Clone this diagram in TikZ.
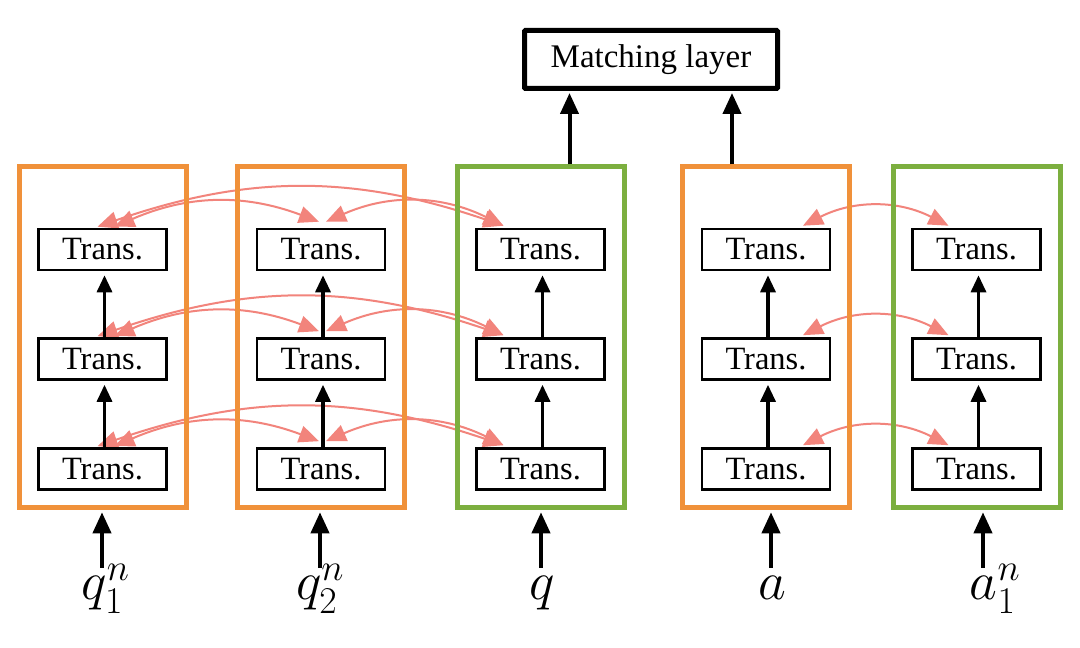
\RequirePackage{fix-cm}
\documentclass[tikz,border=0pt]{standalone}
\usepackage{fontspec}
\setmainfont{Liberation Serif}
\usetikzlibrary{arrows.meta,calc}
\definecolor{boxorange}{HTML}{F0913A}
\definecolor{boxgreen}{HTML}{7CAF3F}
\definecolor{linkpink}{HTML}{F2847C}
\pgfdeclarelayer{bg}
\pgfsetlayers{bg,main}
\begin{document}
\begin{tikzpicture}[x=1pt,y=1pt,
  container/.style={draw=#1, line width=5pt, minimum width=167pt, minimum height=341pt, inner sep=0pt},
  trans/.style={draw, line width=2.6pt, minimum width=128pt, minimum height=41pt, inner sep=0pt, font=\fontsize{32.5}{36}\selectfont},
  matchbox/.style={draw, line width=5pt, rounded corners=1pt, minimum width=253pt, minimum height=58pt, inner sep=0pt, font=\fontsize{33}{38}\selectfont},
  inlabel/.style={anchor=base, inner sep=0pt, font=\fontsize{54}{60}\selectfont},
  upflow/.style={line width=3.3pt, -{Triangle[length=17pt,width=15pt]}, shorten >=4pt},
  bigflow/.style={line width=4pt, -{Triangle[length=21pt,width=18pt]}, shorten >=2pt},
  link/.style={draw=linkpink, line width=2pt, {Triangle[length=20pt,width=17pt]}-{Triangle[length=20pt,width=17pt]}}
]
\useasboundingbox (0,0) rectangle (1080,648);

% containers
\node[container=boxorange] (c1) at (102.5,310.7) {};
\node[container=boxorange] (c2) at (321,310.7) {};
\node[container=boxgreen]  (c3) at (540.5,310.7) {};
\node[container=boxorange] (c4) at (766,310.7) {};
\node[container=boxgreen]  (c5) at (976.5,310.7) {};

% transformer blocks: a = top, b = middle, c = bottom
\foreach \i/\x in {1/102.5,2/321,3/540.5,4/766,5/976.5}{
  \node[trans] (t\i a) at (\x,398.5) {Trans.};
  \node[trans] (t\i b) at (\x,289) {Trans.};
  \node[trans] (t\i c) at (\x,179) {Trans.};
}

% matching layer
\node[matchbox] (ml) at (651,588.5) {Matching layer};

% internal upward arrows
\foreach \i in {1,...,5}{
  \draw[upflow] ([xshift=2pt]t\i c.north) -- ([xshift=2pt]t\i b.south);
  \draw[upflow] ([xshift=2pt]t\i b.north) -- ([xshift=2pt]t\i a.south);
}

% inputs
\node[inlabel] (l1) at (105.6,48) {$q_1^n$};
\node[inlabel] (l2) at (320,48) {$q_2^n$};
\node[inlabel] (l3) at (542,48) {$q$};
\node[inlabel] (l4) at (772,48) {$a$};
\node[inlabel] (l5) at (995,48) {$a_1^n$};
\coordinate (i1) at (102,80);
\coordinate (i2) at (320,80);
\coordinate (i3) at (541,80);
\coordinate (i4) at (771,80);
\coordinate (i5) at (983,80);
\draw[bigflow] (i1) -- (i1 |- c1.south);
\draw[bigflow] (i2) -- (i2 |- c2.south);
\draw[bigflow] (i3) -- (i3 |- c3.south);
\draw[bigflow] (i4) -- (i4 |- c4.south);
\draw[bigflow] (i5) -- (i5 |- c5.south);

% to matching layer
\coordinate (m1) at ([xshift=29pt]c3.north);
\coordinate (m2) at ([xshift=-34pt]c4.north);
\draw[bigflow] (m1) -- (m1 |- ml.south);
\draw[bigflow] (m2) -- (m2 |- ml.south);

% cross links (behind the container borders)
\begin{pgfonlayer}{bg}
\fill[white] (0,0) rectangle (1080,648);
\foreach \r in {a,b,c}{
  \draw[link] ($(t1\r.north)+(-5,1)$) to[bend left=19] ($(t3\r.north)+(-37,2)$);
  \draw[link] ($(t1\r.north)+(12,1)$) to[bend left=22] ($(t2\r.north)+(-2,6)$);
  \draw[link] ($(t2\r.north)+(5,6)$) to[bend left=25] ($(t3\r.north)+(-37,2)$);
  \draw[link] ($(t4\r.north)+(37,2)$) to[bend left=27] ($(t5\r.north)+(-28,2)$);
}
\end{pgfonlayer}
\end{tikzpicture}
\end{document}
